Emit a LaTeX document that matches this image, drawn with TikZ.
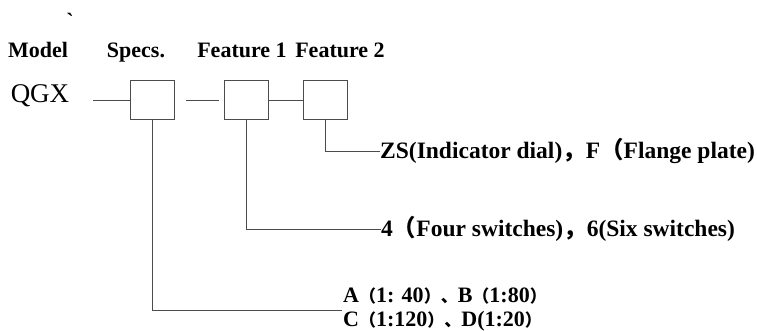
\documentclass[tikz,border=0pt]{standalone}
\usepackage{fontspec}
\setmainfont{Liberation Serif}
\newfontfamily\cjk{Noto Sans CJK SC}
\newcommand{\fw}[1]{{\cjk\fontsize{17}{19}\selectfont #1}}

\tikzset{
  box/.style={draw=black!70, line width=0.8pt, minimum width=44pt, minimum height=39pt, inner sep=0pt},
  lead/.style={draw=black!70, line width=0.8pt},
  head/.style={font=\fontsize{22}{24}\selectfont\bfseries, inner sep=0pt, anchor=base},
  code/.style={font=\fontsize{23.5}{25}\selectfont\bfseries, inner sep=0pt, anchor=west},
  ratio/.style={font=\fontsize{22}{24}\selectfont\bfseries, inner sep=0pt, anchor=base west}
}

\begin{document}
\begin{tikzpicture}[x=1pt, y=-1pt]
\useasboundingbox (0,0) rectangle (757,330);
\node[inner sep=0pt, font=\fontsize{22}{24}\selectfont\bfseries] (tick) at (70,21) {\textasciigrave};
\node[head] (model) at (38,57) {Model};
\node[head] (specs) at (136,57) {Specs.};
\node[head] (feat1) at (242,57) {Feature 1};
\node[head] (feat2) at (340,57) {Feature 2};
\node[inner sep=0pt, anchor=base, font=\fontsize{27}{29}\selectfont] (qgx) at (40,102) {QGX};
\node[box] (spec) at (152,100) {};
\node[box] (opt1) at (246,100) {};
\node[box] (opt2) at (325,100) {};
\coordinate (q) at (93,100);
\coordinate (g1) at (186,100);
\coordinate (g2) at (219,100);
\node[code] (dial) at (380,151) {ZS(Indicator dial){\cjk ，}F{\cjk （}Flange plate)};
\node[code] (sw) at (381,229) {4{\cjk （}Four switches){\cjk ，}6(Six switches)};
\node[ratio] (ra) at (343,302) {A\fw{（}1: 40\fw{）、}B\fw{（}1:80\fw{）}};
\node[ratio] (rc) at (343,326) {C\fw{（}1:120\fw{）、}D(1:20\fw{）}};
\coordinate (r) at (342,310);
\draw[lead] (q) -- (spec);
\draw[lead] (g1) -- (g2);
\draw[lead] (opt1) -- (opt2);
\draw[lead] (opt2.south) |- (dial.west);
\draw[lead] (opt1.south) |- (sw.west);
\draw[lead] (spec.south) |- (r);
\end{tikzpicture}
\end{document}
